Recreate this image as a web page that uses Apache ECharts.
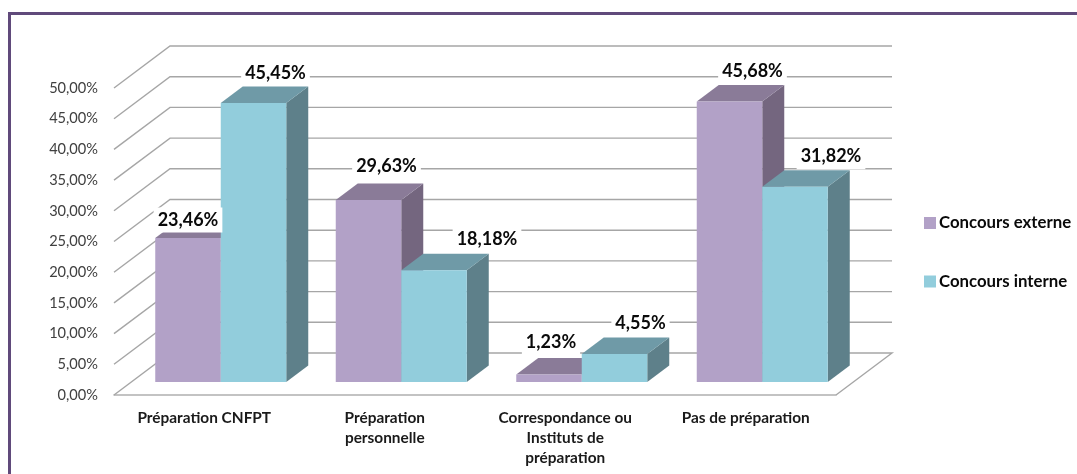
<!DOCTYPE html>
<html>
<head>
<meta charset="utf-8">
<style>html,body{margin:0;padding:0;background:#fff}#c{width:1077px;height:474px}</style>
<script src="https://cdn.jsdelivr.net/npm/echarts@6/dist/echarts.min.js"></script>
</head>
<body>
<div id="c"></div>
<script>
const categories = ['Préparation CNFPT', 'Préparation\npersonnelle', 'Correspondance ou\nInstituts de\npréparation', 'Pas de préparation'];
const externe = [23.46, 29.63, 1.23, 45.68];
const interne = [45.45, 18.18, 4.55, 31.82];
const ticks = [0, 5, 10, 15, 20, 25, 30, 35, 40, 45, 50];

// label placement relative to the top centre of each bar's front face
const externeNudge = [[0, -18], [18, -34], [2, -32], [23, -30]];
const interneNudge = [[22, -30], [53, -31], [26, -31], [36, -30]];

const fmt = v => v.toFixed(2).replace('.', ',') + '%';
const WALL = [56, -42], FLOOR = [16.5, -13], DEPTH = [22, -16.5], BAR = 65.5;
const FONT = '"Lato","Noto Sans",sans-serif';

function barSeries(name, values, seriesIdx, front, top, side) {
  return {
    name, type: 'custom', coordinateSystem: 'cartesian2d', z: 3 + seriesIdx,
    itemStyle: { color: front }, encode: { x: 0, y: 1 },
    data: values.map((v, i) => [i, v]),
    renderItem(params, api) {
      const i = api.value(0), v = api.value(1);
      const t = api.coord([i, v]), b = api.coord([i, 0]);
      const x0 = t[0] + FLOOR[0] + (seriesIdx - 1) * BAR, x1 = x0 + BAR;
      const yt = t[1] + FLOOR[1], yb = b[1] + FLOOR[1];
      const [dx, dy] = DEPTH;
      return { type: 'group', children: [
        { type: 'polygon', shape: { points: [[x1, yt], [x1 + dx, yt + dy], [x1 + dx, yb + dy], [x1, yb]] }, style: { fill: side } },
        { type: 'polygon', shape: { points: [[x0, yt], [x0 + dx, yt + dy], [x1 + dx, yt + dy], [x1, yt]] }, style: { fill: top } },
        { type: 'rect', shape: { x: x0, y: yt, width: BAR, height: yb - yt }, style: { fill: front } }
      ] };
    }
  };
}

function labelSeries(values, nudge, seriesIdx) {
  return {
    type: 'custom', coordinateSystem: 'cartesian2d', z: 8, silent: true,
    encode: { x: 0, y: 1 },
    data: values.map((v, i) => [i, v]),
    renderItem(params, api) {
      const i = api.value(0), v = api.value(1);
      const t = api.coord([i, v]);
      const n = nudge[i];
      const cx = t[0] + FLOOR[0] + (seriesIdx - 0.5) * BAR + n[0];
      const cy = t[1] + FLOOR[1] + n[1];
      return { type: 'text', style: {
        x: cx, y: cy, text: fmt(v), align: 'center', verticalAlign: 'middle',
        font: 'bold 18px ' + FONT, fill: '#0a0a0a', backgroundColor: '#fff', padding: [4, 4, 3, 4]
      } };
    }
  };
}

const option = {
  animation: false,
  backgroundColor: '#fff',
  grid: { left: 114, top: 88, width: 722, height: 307, containLabel: false },
  xAxis: {
    type: 'category', data: categories,
    axisTick: { show: false },
    axisLine: { show: true, onZero: true, lineStyle: { color: '#b0b0b0', width: 1.5 } },
    axisLabel: { interval: 0, margin: 13, lineHeight: 20, color: '#1a1a1a', fontFamily: FONT, fontSize: 15.4, fontWeight: 'bold', verticalAlign: 'top' }
  },
  yAxis: {
    type: 'value', min: 0, max: 50, interval: 5,
    splitLine: { show: false }, axisLine: { show: false }, axisTick: { show: false },
    axisLabel: { formatter: v => fmt(v), margin: 16, color: '#404040', fontFamily: FONT, fontSize: 14.6, padding: [2, 0, 0, 0] }
  },
  legend: {
    orient: 'vertical', left: 924, top: 213, padding: 0, itemWidth: 12, itemHeight: 12, itemGap: 38.5, icon: 'rect',
    data: ['Concours externe', 'Concours interne'],
    selectedMode: false,
    textStyle: { color: '#0a0a0a', fontFamily: FONT, fontSize: 16.8, fontWeight: 'bold', padding: [0, 0, 0, -2], lineHeight: 20 }
  },
  graphic: [
    { type: 'rect', z: 20, shape: { x: 8, y: 12, width: 1069, height: 3 }, style: { fill: '#604a7b' } },
    { type: 'rect', z: 20, shape: { x: 8, y: 12, width: 3, height: 462 }, style: { fill: '#604a7b' } }
  ],
  series: [
    {
      type: 'custom', coordinateSystem: 'cartesian2d', z: 1, silent: true,
      encode: { y: 0 }, data: ticks.map(t => [t]),
      renderItem(params, api) {
        const v = api.value(0);
        const p = api.coord([0, v]);
        const left = p[0] - api.size([1, 0])[0] / 2;
        const right = left + api.size([1, 0])[0] * categories.length;
        const pts = [[left, p[1]], [left + WALL[0], p[1] + WALL[1]], [right + WALL[0], p[1] + WALL[1]]];
        if (v === 0) pts.push([right, p[1]]);
        return { type: 'polyline', shape: { points: pts }, style: { fill: null, stroke: '#a6a6a6', lineWidth: 1.4 } };
      }
    },
    barSeries('Concours externe', externe, 0, '#b2a1c7', '#8a7b98', '#74667f'),
    barSeries('Concours interne', interne, 1, '#92cddc', '#6f9aa7', '#5e808a'),
    labelSeries(externe, externeNudge, 0),
    labelSeries(interne, interneNudge, 1)
  ]
};
echarts.init(document.getElementById('c'), null, { renderer: 'canvas' }).setOption(option);
</script>
</body>
</html>
